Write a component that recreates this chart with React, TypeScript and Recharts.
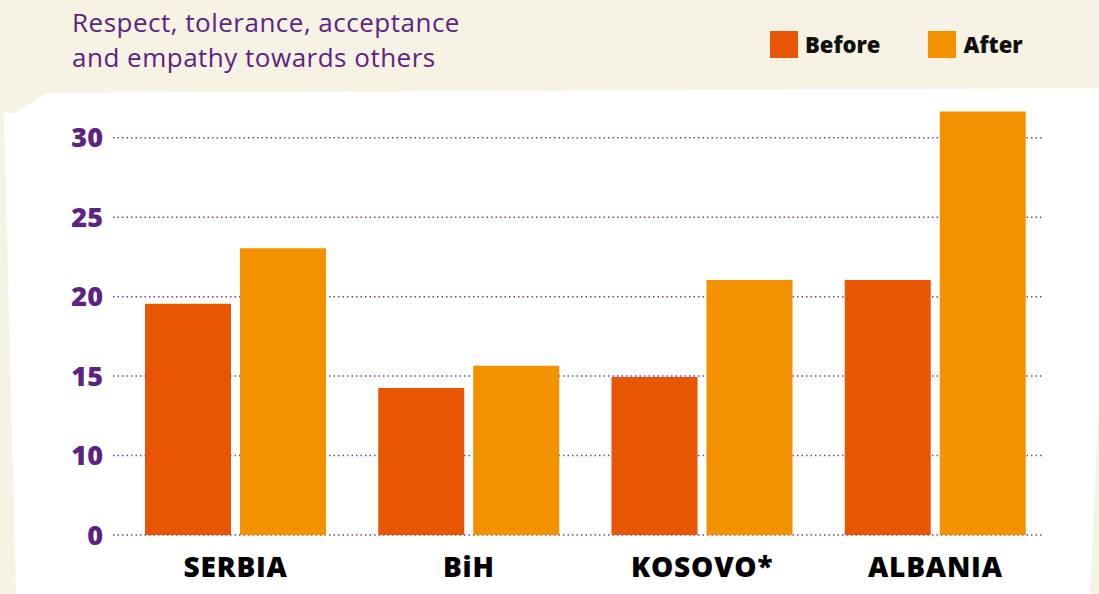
import React from 'react';
import { BarChart, Bar, XAxis, YAxis, CartesianGrid } from 'recharts';

const countries = ['SERBIA', 'BiH', 'KOSOVO*', 'ALBANIA'];
const beforeValues = [19.55, 14.25, 14.95, 21.05];
const afterValues = [23.05, 15.65, 21.05, 31.65];
// the axis is cut: its lowest line stands at 5 and is labelled 0
const yTicks = [5, 10, 15, 20, 25, 30];
const yTickLabels = ['0', '10', '15', '20', '25', '30'];

const data = countries.map((name, i) => ({
  name,
  before: beforeValues[i],
  after: afterValues[i],
}));

const W = 1099;
const H = 594;
const PURPLE = '#5b2483';
const BEFORE = '#e85604';
const AFTER = '#f39200';
const FONT = '"Open Sans", Lato, sans-serif';

const legendItems = [
  { label: 'Before', color: BEFORE },
  { label: 'After', color: AFTER },
];

const App: React.FC = () => {
  return (
    <div
      style={{
        position: 'fixed',
        left: 0,
        top: 0,
        width: W,
        height: H,
        background: '#f6f2e4',
        overflow: 'hidden',
      }}
    >
      {/* white paper panel */}
      <svg width={W} height={H} style={{ position: 'absolute', left: 0, top: 0 }}>
        <polygon
          points="4,113 14,113 47,93 1099,88 1099,390 1090,594 16,594"
          fill="#ffffff"
        />
      </svg>

      <div
        style={{
          position: 'absolute',
          left: 72,
          top: 5,
          fontFamily: FONT,
          fontSize: 26,
          letterSpacing: 0.5,
          lineHeight: '35px',
          color: PURPLE,
        }}
      >
        Respect, tolerance, acceptance
        <br />
        and empathy towards others
      </div>

      {/* legend */}
      <div
        style={{
          position: 'absolute',
          left: 770,
          top: 31,
          display: 'flex',
          alignItems: 'center',
          fontFamily: FONT,
        }}
      >
        {legendItems.map((item, i) => (
          <div
            key={item.label}
            style={{ display: 'flex', alignItems: 'center', marginRight: i === 0 ? 48 : 0 }}
          >
            <span
              style={{ width: 28, height: 27, background: item.color, display: 'inline-block', marginRight: 7 }}
            />
            <span style={{ fontSize: 22, fontWeight: 800, color: '#111', lineHeight: '27px' }}>
              {item.label}
            </span>
          </div>
        ))}
      </div>

      <div style={{ position: 'absolute', left: 0, top: 0 }}>
        <BarChart
          width={W}
          height={H}
          data={data}
          margin={{ top: 98, right: 56, left: 0, bottom: 29 }}
          barSize={86}
          barGap={9}
        >
          <CartesianGrid
            vertical={false}
            horizontalValues={yTicks}
            stroke="#7a3ca0"
            strokeWidth={1.5}
            strokeDasharray="1.5 3"
          />
          <XAxis
            dataKey="name"
            height={30}
            axisLine={false}
            tickLine={false}
            padding={{ left: 6, right: -9 }}
            tick={{ fill: '#000', fontSize: 28, fontWeight: 800, fontFamily: FONT, letterSpacing: 0.8 }}
            tickMargin={16}
            interval={0}
          />
          <YAxis
            width={113}
            domain={[5, 32.5]}
            ticks={yTicks}
            allowDataOverflow
            axisLine={false}
            tickLine={false}
            tickSize={0}
            tickMargin={10}
            tickFormatter={(v: number) => yTickLabels[yTicks.indexOf(v)] ?? ''}
            tick={{ fill: PURPLE, fontSize: 27, fontWeight: 800, fontFamily: FONT }}
          />
          <Bar dataKey="before" name="Before" fill={BEFORE} isAnimationActive={false} />
          <Bar dataKey="after" name="After" fill={AFTER} isAnimationActive={false} />
        </BarChart>
      </div>
    </div>
  );
};

export default App;
